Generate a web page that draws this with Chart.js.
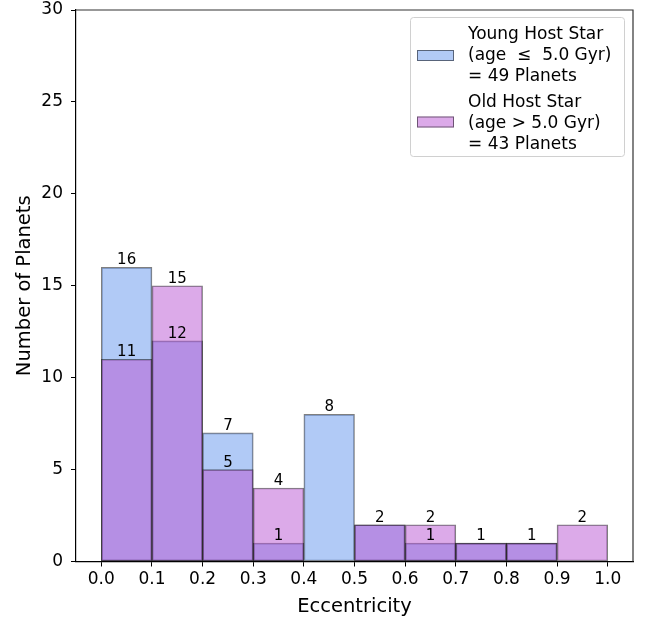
<!DOCTYPE html>
<html>
<head>
<meta charset="utf-8">
<title>Eccentricity histogram</title>
<script src="https://cdn.jsdelivr.net/npm/chart.js@4.4.1/dist/chart.umd.min.js"></script>
<style>
  html, body { margin: 0; padding: 0; background: #fff; }
  #wrap { width: 651px; height: 623px; }
</style>
</head>
<body>
<div id="wrap"><canvas id="histo" width="651" height="623"></canvas></div>
<script>
// ===== Data =====
// centre of each eccentricity bin (bins are 0.1 wide)
const binCenters = [0.05, 0.15, 0.25, 0.35, 0.45, 0.55, 0.65, 0.75, 0.85, 0.95];
// planets per bin
const youngCounts = [16, 12, 7, 1, 8, 2, 1, 1, 1, 0];
const oldCounts   = [11, 15, 5, 4, 0, 2, 2, 1, 1, 2];
// axis ticks
const xTicks = [0.0, 0.1, 0.2, 0.3, 0.4, 0.5, 0.6, 0.7, 0.8, 0.9, 1.0];
const yTicks = [0, 5, 10, 15, 20, 25, 30];
// legend text
const youngLegend = ['Young Host Star', '(age  \u2264  5.0 Gyr)', '= 49 Planets'];
const oldLegend   = ['Old Host Star', '(age > 5.0 Gyr)', '= 43 Planets'];

const FONT = '"DejaVu Sans", sans-serif';
const youngFill = 'rgba(100, 149, 237, 0.5)';
const oldFill = 'rgba(186, 85, 211, 0.5)';
const edge = 'rgba(0, 0, 0, 0.5)';

// zero-height bins are not drawn
const toPoints = counts => counts.map((c, i) => ({ x: binCenters[i], y: c > 0 ? c : null }));

// ===== Plugins =====
// value labels on top of each bar
const barLabels = {
  id: 'barLabels',
  afterDatasetsDraw(chart) {
    const ctx = chart.ctx;
    ctx.save();
    ctx.font = '15px ' + FONT;
    ctx.fillStyle = '#000';
    ctx.textAlign = 'center';
    ctx.textBaseline = 'alphabetic';
    chart.data.datasets.forEach((ds, di) => {
      const meta = chart.getDatasetMeta(di);
      meta.data.forEach((bar, i) => {
        const v = ds.data[i].y;
        if (!v) return;
        // same height in both series -> one label is enough
        if (di === 1 && youngCounts[i] === oldCounts[i]) return;
        ctx.fillText(String(v), bar.x, bar.y - 3);
      });
    });
    ctx.restore();
  }
};

// top / right spines and the legend box
const frameAndLegend = {
  id: 'frameAndLegend',
  afterDraw(chart) {
    const { ctx, chartArea: a } = chart;
    ctx.save();
    ctx.strokeStyle = '#333';
    ctx.lineWidth = 1.2;
    ctx.beginPath();
    ctx.moveTo(a.left, a.top);
    ctx.lineTo(a.right, a.top);
    ctx.lineTo(a.right, a.bottom);
    ctx.stroke();

    // legend
    ctx.beginPath();
    ctx.roundRect(410.5, 17.5, 214, 139, 3);
    ctx.fillStyle = 'rgba(255,255,255,0.8)';
    ctx.fill();
    ctx.strokeStyle = '#d0d0d0';
    ctx.lineWidth = 1;
    ctx.stroke();

    const entries = [
      { fill: youngFill, lines: youngLegend, patchY: 50, base: 39 },
      { fill: oldFill, lines: oldLegend, patchY: 116.5, base: 107 }
    ];
    ctx.font = '17px ' + FONT;
    ctx.textAlign = 'left';
    ctx.textBaseline = 'alphabetic';
    entries.forEach(e => {
      ctx.fillStyle = e.fill;
      ctx.fillRect(417, e.patchY, 37, 11);
      ctx.strokeStyle = edge;
      ctx.strokeRect(417.5, e.patchY + 0.5, 36, 10);
      ctx.fillStyle = '#000';
      e.lines.forEach((t, k) => ctx.fillText(t, 468, e.base + k * 21.2));
    });
    ctx.restore();
  }
};

// ===== Chart =====
new Chart(document.getElementById('histo'), {
  type: 'bar',
  data: {
    datasets: [
      {
        label: 'Young Host Star',
        data: toPoints(youngCounts),
        backgroundColor: youngFill,
        borderColor: edge,
        borderWidth: 1,
        borderSkipped: false,
        order: 2
      },
      {
        label: 'Old Host Star',
        data: toPoints(oldCounts),
        backgroundColor: oldFill,
        borderColor: edge,
        borderWidth: 1,
        borderSkipped: false,
        order: 1
      }
    ]
  },
  options: {
    responsive: false,
    animation: false,
    devicePixelRatio: 1,
    grouped: false,
    barPercentage: 1,
    categoryPercentage: 1,
    layout: { padding: { top: 0, right: 18, left: 0, bottom: 0 } },
    plugins: {
      legend: { display: false },
      tooltip: { enabled: false }
    },
    scales: {
      x: {
        type: 'linear',
        offset: false,
        min: -0.05,
        max: 1.05,
        afterBuildTicks: s => { s.ticks = xTicks.map(v => ({ value: v })); },
        afterFit: s => { s.height = 61.5; },
        ticks: {
          callback: v => v.toFixed(1),
          font: { family: FONT, size: 17 },
          color: '#000',
          padding: 3,
          maxRotation: 0,
          autoSkip: false
        },
        grid: { offset: false, drawOnChartArea: false, drawTicks: true, tickLength: 5, tickColor: '#000' },
        border: { color: '#000', width: 1.2 },
        title: {
          display: true,
          text: 'Eccentricity',
          font: { family: FONT, size: 19.5 },
          color: '#000',
          padding: { top: 0, bottom: 4 }
        }
      },
      y: {
        min: 0,
        max: 30,
        afterBuildTicks: s => { s.ticks = yTicks.map(v => ({ value: v })); },
        afterFit: s => { s.width = 76; s.paddingTop = 10; s.paddingBottom = 0; },
        ticks: {
          font: { family: FONT, size: 17 },
          color: '#000',
          padding: 8
        },
        grid: { drawOnChartArea: false, drawTicks: true, tickLength: 5, tickColor: '#000' },
        border: { color: '#000', width: 1.2 },
        title: {
          display: true,
          text: 'Number of Planets',
          font: { family: FONT, size: 19.5 },
          color: '#000',
          padding: { top: 13, bottom: 0 }
        }
      }
    }
  },
  plugins: [barLabels, frameAndLegend]
});
</script>
</body>
</html>
